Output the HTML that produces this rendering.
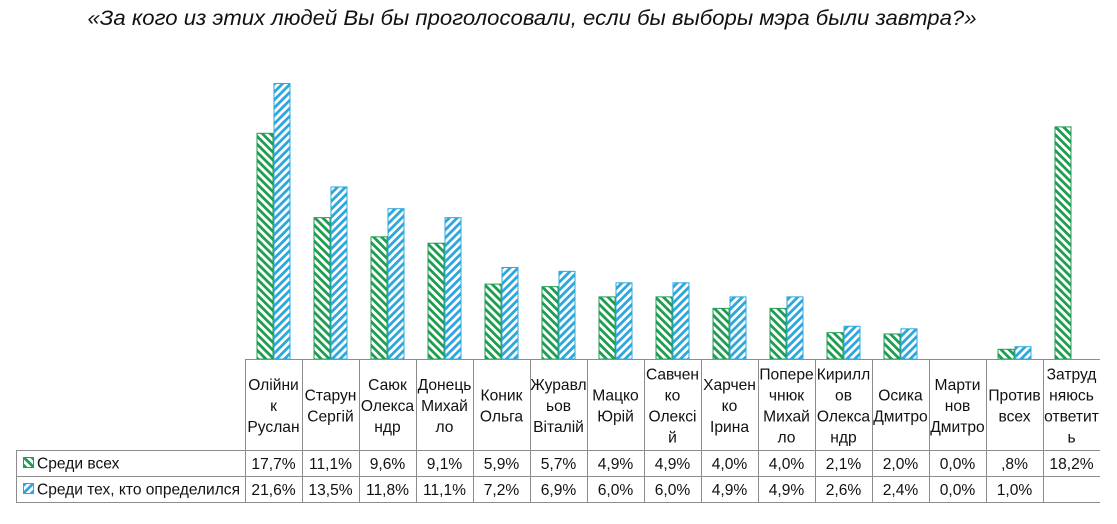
<!DOCTYPE html>
<html><head><meta charset="utf-8">
<style>
html,body{margin:0;padding:0;background:#fff;}
svg{display:block;}
text{font-family:"Liberation Sans",sans-serif;fill:#111;}
</style></head>
<body>
<svg width="1117" height="524" viewBox="0 0 1117 524" xmlns="http://www.w3.org/2000/svg">
<defs>
<pattern id="pg" patternUnits="userSpaceOnUse" width="5.6" height="5.6" patternTransform="rotate(-45)">
<rect width="5.6" height="5.6" fill="#fff"/><rect width="2.8" height="5.6" fill="#1f9e52"/>
</pattern>
<pattern id="pb" patternUnits="userSpaceOnUse" width="5.6" height="5.6" patternTransform="rotate(45)">
<rect width="5.6" height="5.6" fill="#fff"/><rect width="2.8" height="5.6" fill="#2ea7dc"/>
</pattern>
</defs>
<text x="532" y="25" text-anchor="middle" font-size="21.5" font-style="italic" textLength="889" lengthAdjust="spacingAndGlyphs">«За кого из этих людей Вы бы проголосовали, если бы выборы мэра были завтра?»</text>

<g id="bars"></g>

<g stroke="#8c8c8c" stroke-width="1" shape-rendering="crispEdges">
<line x1="245" y1="359.5" x2="1100" y2="359.5"/>
<line x1="16" y1="450.5" x2="1100" y2="450.5"/>
<line x1="16" y1="476.5" x2="1100" y2="476.5"/>
<line x1="16" y1="502.5" x2="1100" y2="502.5"/>
<line x1="16.5" y1="450" x2="16.5" y2="503"/>
<g id="vlines"></g>
</g>

<rect x="23.5" y="457.5" width="10" height="10" fill="url(#pg)" stroke="#1f9e52"/>
<rect x="23.5" y="483.5" width="10" height="10" fill="url(#pb)" stroke="#2ea7dc"/>
<text x="37" y="468.5" font-size="15.6">Среди всех</text>
<text x="37" y="494.5" font-size="15.6" textLength="203" lengthAdjust="spacingAndGlyphs">Среди тех, кто определился</text>

<g id="hdr" font-size="15.6" text-anchor="middle"></g>
<g id="vals" font-size="15.6" text-anchor="middle"></g>
</svg>
<script>
(function(){
var NS="http://www.w3.org/2000/svg";
var g=[17.7,11.1,9.6,9.1,5.9,5.7,4.9,4.9,4.0,4.0,2.1,2.0,0.0,0.8,18.2];
var b=[21.6,13.5,11.8,11.1,7.2,6.9,6.0,6.0,4.9,4.9,2.6,2.4,0.0,1.0,null];
var gs=["17,7%","11,1%","9,6%","9,1%","5,9%","5,7%","4,9%","4,9%","4,0%","4,0%","2,1%","2,0%","0,0%",",8%","18,2%"];
var bs=["21,6%","13,5%","11,8%","11,1%","7,2%","6,9%","6,0%","6,0%","4,9%","4,9%","2,6%","2,4%","0,0%","1,0%",""];
var hd=[["Олійни","к","Руслан"],["Старун","Сергій"],["Саюк","Олекса","ндр"],["Донець","Михай","ло"],["Коник","Ольга"],["Журавл","ьов","Віталій"],["Мацко","Юрій"],["Савчен","ко","Олексі","й"],["Харчен","ко","Ірина"],["Попере","чнюк","Михай","ло"],["Кирилл","ов","Олекса","ндр"],["Осика","Дмитро"],["Марти","нов","Дмитро"],["Против","всех"],["Затруд","няюсь","ответит","ь"]];
var base=359, sc=12.78, cw=57, x0=245;
var bars=document.getElementById("bars"),vl=document.getElementById("vlines"),hdr=document.getElementById("hdr"),vals=document.getElementById("vals");
function el(n,a,p){var e=document.createElementNS(NS,n);for(var k in a)e.setAttribute(k,a[k]);p.appendChild(e);return e;}
for(var i=0;i<15;i++){
 var c=x0+cw*i+28.5;
 if(g[i]>0){var h=g[i]*sc;el("rect",{x:c-17+0.5,y:base-h+0.5,width:16,height:h-0.5,fill:"url(#pg)",stroke:"#1f9e52","stroke-width":1},bars);}
 if(b[i]!==null&&b[i]>0){var h2=b[i]*sc;el("rect",{x:c+0.5,y:base-h2+0.5,width:16,height:h2-0.5,fill:"url(#pb)",stroke:"#2ea7dc","stroke-width":1},bars);}
 var L=hd[i],n=L.length;
 for(var k=0;k<n;k++){var y=405.5+(k-(n-1)/2)*21+5.5;var t=el("text",{x:c,y:y},hdr);t.textContent=L[k];}
 var t1=el("text",{x:c,y:469},vals);t1.textContent=gs[i];
 var t2=el("text",{x:c,y:495},vals);t2.textContent=bs[i];
}
for(var j=0;j<15;j++){var xx=x0+cw*j+0.5;el("line",{x1:xx,y1:359,x2:xx,y2:503},vl);}
})();
</script>
</body></html>
